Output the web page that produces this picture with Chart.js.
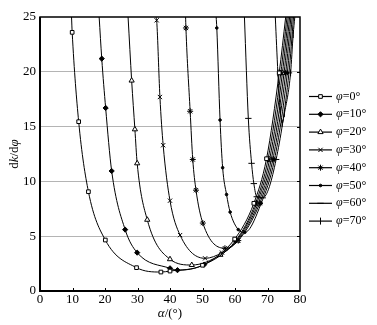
<!DOCTYPE html>
<html>
<head>
<meta charset="utf-8">
<script src="https://cdn.jsdelivr.net/npm/chart.js@4.4.1/dist/chart.umd.min.js"></script>
<style>
  html, body { margin: 0; padding: 0; background: #fff; }
  #wrap { width: 377px; height: 325px; }
</style>
</head>
<body>
<div id="wrap"><canvas id="chart" width="377" height="325"></canvas></div>
<script>
// dk/dφ against α, one curve per φ; each entry is [α, dk/dφ]
const phiValues = [0, 10, 20, 30, 40, 50, 60, 70];

const phi0 = [[9.7, 25], [9.9, 23.6], [11.9, 15.45], [14.9, 9.06], [20.1, 4.65], [29.7, 2.13], [37.2, 1.73],
  [40, 1.82], [50, 2.35], [59.9, 4.74], [65.8, 8.0], [69.7, 12.07], [73.6, 19.9], [75.6, 25]];
const phi10 = [[18.2, 25], [19.0, 21.2], [20.2, 16.7], [22.05, 10.95], [26.2, 5.6], [29.9, 3.5], [40, 2.07],
  [42.3, 1.9], [50.5, 2.4], [60.2, 4.6], [66.3, 8.0], [70.15, 12.0], [74.1, 19.9], [76.0, 25]];
const phi20 = [[27.1, 25], [28.2, 19.2], [29.2, 14.75], [29.9, 11.65], [33, 6.5], [40, 2.9], [46.7, 2.37],
  [55.5, 3.3], [60.5, 4.6], [66.7, 8.0], [70.65, 12.0], [74.6, 19.9], [76.4, 25]];
const phi30 = [[35.7, 25], [35.9, 24.7], [36.9, 17.7], [37.9, 13.3], [40, 8.24], [43.1, 5.1], [50.8, 2.98],
  [56, 3.5], [60.8, 4.6], [67.15, 8.0], [71.15, 12.0], [75.1, 19.9], [76.8, 25]];
const phi40 = [[44.8, 25], [44.9, 24.0], [46.2, 16.4], [47, 12.0], [48, 9.2], [50.1, 6.2], [56.9, 3.9],
  [61.0, 4.6], [67.6, 8.0], [71.65, 12.0], [75.6, 19.9], [77.2, 25]];
const phi50 = [[54.2, 25], [54.4, 24.0], [55.4, 15.6], [56.2, 11.25], [57.4, 8.8], [58.5, 7.2], [61, 5.6],
  [63, 5.35], [68.05, 8.0], [72.15, 12.0], [76.1, 19.9], [77.6, 25]];
const phi60 = [[62.9, 25], [64.1, 15.75], [65.1, 11.65], [65.8, 9.8], [66.7, 8.6], [68.5, 8.5], [72.65, 12.0],
  [76.6, 19.9], [78.0, 25]];
const phi70 = [[72.4, 25], [73.2, 19.9], [73.9, 16.5], [74.5, 15.3], [75.2, 16.2], [77.1, 19.9], [77.9, 23.4],
  [78.4, 25]];

const curves = [phi0, phi10, phi20, phi30, phi40, phi50, phi60, phi70];

const xMin = 0, xMax = 80, xStep = 10;
const yMin = 0, yMax = 25, yStep = 5;

const SERIF = '"Liberation Serif", "Times New Roman", serif';

// marker look for each φ
const markers = [
  { pointStyle: 'rect', radius: 2.6, fill: '#fff' },
  { pointStyle: 'rectRot', radius: 2.6, fill: '#000' },
  { pointStyle: 'triangle', radius: 3, fill: '#fff' },
  { pointStyle: 'crossRot', radius: 3, fill: '#000' },
  { pointStyle: 'star', radius: 3, fill: '#000' },
  { pointStyle: 'circle', radius: 1.3, fill: '#000' },
  { pointStyle: 'line', radius: 3.2, fill: '#000' },
  { pointStyle: 'line', radius: 3.5, fill: '#000', rotation: 90 },
];

const datasets = curves.map((pts, i) => {
  const m = markers[i];
  return {
    label: 'φ=' + phiValues[i] + '°',
    data: pts.map(p => ({ x: p[0], y: p[1] })),
    borderColor: '#000',
    borderWidth: 1,
    cubicInterpolationMode: 'monotone',
    fill: false,
    pointStyle: m.pointStyle,
    pointRotation: m.rotation || 0,
    pointBackgroundColor: m.fill,
    pointBorderColor: '#000',
    pointBorderWidth: 1,
    pointRadius: c => (c.raw && c.raw.y >= yMax ? 0 : m.radius),
    pointHoverRadius: 0,
  };
});

function drawRich(ctx, parts, x, y, size) {
  // parts: [text, italic]; drawn centred on x
  let total = 0;
  parts.forEach(p => {
    ctx.font = (p[1] ? 'italic ' : '') + size + 'px ' + SERIF;
    total += ctx.measureText(p[0]).width;
  });
  let cx = x - total / 2;
  parts.forEach(p => {
    ctx.font = (p[1] ? 'italic ' : '') + size + 'px ' + SERIF;
    ctx.fillText(p[0], cx, y);
    cx += ctx.measureText(p[0]).width;
  });
}

const framePlugin = {
  id: 'frame',
  afterDraw(chart) {
    const { ctx, chartArea: a, scales } = chart;
    ctx.save();
    ctx.strokeStyle = '#000';

    // plot frame, left and bottom a bit heavier
    ctx.lineWidth = 1.5;
    ctx.strokeRect(a.left, a.top, a.right - a.left, a.bottom - a.top);
    ctx.lineWidth = 2;
    ctx.beginPath();
    ctx.moveTo(a.left, a.top);
    ctx.lineTo(a.left, a.bottom);
    ctx.lineTo(a.right, a.bottom);
    ctx.stroke();

    // inward ticks
    ctx.lineWidth = 1;
    ctx.beginPath();
    for (let v = xMin + xStep; v < xMax; v += xStep) {
      const px = Math.round(scales.x.getPixelForValue(v)) + 0.5;
      ctx.moveTo(px, a.bottom);
      ctx.lineTo(px, a.bottom - 3);
    }
    for (let v = yMin + yStep; v < yMax; v += yStep) {
      const py = Math.round(scales.y.getPixelForValue(v)) + 0.5;
      ctx.moveTo(a.right, py);
      ctx.lineTo(a.right - 3, py);
    }
    ctx.stroke();

    // axis titles
    ctx.fillStyle = '#000';
    ctx.textBaseline = 'middle';
    ctx.textAlign = 'left';
    drawRich(ctx, [['α', true], ['/(°)', false]], (a.left + a.right) / 2, 314, 13);
    ctx.save();
    ctx.translate(15, (a.top + a.bottom) / 2);
    ctx.rotate(-Math.PI / 2);
    drawRich(ctx, [['d', false], ['k', true], ['/d', false], ['φ', true]], 0, 0, 13);
    ctx.restore();

    // legend: short line with the marker in the middle, then the label
    chart.data.datasets.forEach((ds, i) => {
      const m = markers[i];
      const y = 96.5 + i * 17.8;
      ctx.lineWidth = 1.2;
      ctx.beginPath();
      ctx.moveTo(309, y);
      ctx.lineTo(332, y);
      ctx.stroke();
      ctx.fillStyle = m.fill;
      ctx.lineWidth = 1;
      Chart.helpers.drawPoint(ctx, { pointStyle: m.pointStyle, rotation: m.rotation || 0, radius: m.radius, borderWidth: 1 }, 320.5, y);
      ctx.fillStyle = '#000';
      ctx.font = 'italic 12px ' + SERIF;
      ctx.fillText('φ', 336, y);
      const w = ctx.measureText('φ').width;
      ctx.font = '12px ' + SERIF;
      ctx.fillText('=' + phiValues[i] + '°', 336 + w, y);
    });
    ctx.restore();
  }
};

new Chart(document.getElementById('chart'), {
  type: 'line',
  data: { datasets },
  options: {
    responsive: false,
    animation: false,
    devicePixelRatio: 1,
    layout: { padding: { top: 17, right: 77, left: 0, bottom: 0 } },
    plugins: { legend: { display: false }, tooltip: { enabled: false } },
    elements: { line: { tension: 0 } },
    scales: {
      x: {
        type: 'linear',
        min: xMin, max: xMax,
        ticks: { stepSize: xStep, color: '#000', font: { family: SERIF, size: 13 }, padding: 1, maxRotation: 0 },
        grid: { display: false, drawTicks: false },
        border: { display: false },
        afterFit: s => { s.height = 34; },
      },
      y: {
        min: yMin, max: yMax,
        ticks: { stepSize: yStep, color: '#000', font: { family: SERIF, size: 13 }, padding: 4 },
        grid: {
          drawTicks: false,
          lineWidth: 1,
          color: c => (c.tick && c.tick.value > yMin && c.tick.value < yMax ? '#b4b4b4' : 'rgba(0,0,0,0)'),
        },
        border: { display: false },
        afterFit: s => { s.width = 40; },
      },
    },
  },
  plugins: [framePlugin],
});
</script>
</body>
</html>
